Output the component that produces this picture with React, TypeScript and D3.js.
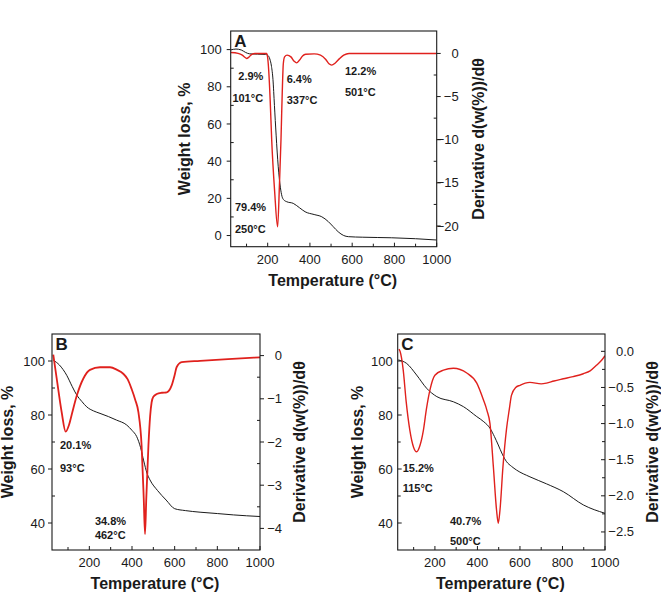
import React from "react";
import * as d3 from "d3";

// ---------- Tick values ----------
const xMajorTicks = [200, 400, 600, 800, 1000];
const xMinorTicks = [100, 300, 500, 700, 900];

const leftMajorA = [0, 20, 40, 60, 80, 100];
const leftMinorA = [10, 30, 50, 70, 90];
const rightMajorA = [0, -5, -10, -15, -20];
const rightMinorA = [-2.5, -7.5, -12.5, -17.5];

const leftMajorBC = [40, 60, 80, 100];
const leftMinorBC = [50, 70, 90];
const rightMajorB = [0, -1, -2, -3, -4];
const rightMinorB = [-0.5, -1.5, -2.5, -3.5];
const rightMajorC = [0, -0.5, -1, -1.5, -2, -2.5];
const rightMinorC = [-0.25, -0.75, -1.25, -1.75, -2.25];

// ---------- Panel A data ----------
const tgTempA = [25, 50, 75, 95, 115, 190, 200, 210, 218, 225, 232, 240, 250, 260, 268, 276, 290, 321, 350, 377, 420, 456, 487, 510, 534, 560, 582, 650, 787, 900, 1000];
const tgWeightA = [99.8, 100.3, 99.8, 98.5, 97.7, 97.4, 97, 95, 91, 84, 70, 54, 37, 26, 21, 19.2, 18.2, 17.3, 15, 12.8, 11.3, 10.1, 7.5, 4.8, 2, 0, -0.6, -0.9, -1.2, -1.7, -2.4];
const dtgTempA = [25, 60, 80, 95, 101, 110, 125, 140, 195, 200, 205, 212, 219, 233, 247, 256, 263, 269, 274, 280, 292, 310, 325, 337, 350, 365, 380, 420, 450, 475, 490, 503, 520, 540, 560, 585, 1000];
const dtgValA = [0.1, 0, -0.2, -0.5, -0.58, -0.45, -0.1, 0, 0, -0.5, -2, -5.5, -10, -16, -20.1, -15, -10, -4.5, -1.2, -0.4, -0.2, -0.4, -0.9, -1.1, -0.8, -0.3, -0.1, -0.05, -0.2, -0.7, -1.2, -1.35, -1.1, -0.6, -0.2, 0, 0];
const annTextA = ["2.9%", "101°C", "6.4%", "337°C", "12.2%", "501°C", "79.4%", "250°C"];
const annTempA = [61, 33, 290, 290, 566, 566, 45, 45];
const annValA = [83.4, 71.8, 82.3, 71, 86.3, 75.2, 13.2, 1.5];

// ---------- Panel B data ----------
const tgTempB = [31, 60, 94, 120, 141, 165, 188, 220, 250, 290, 328, 375, 400, 422, 440, 455, 470, 484, 520, 560, 600, 650, 719, 800, 875, 1000];
const tgWeightB = [100.3, 98.5, 94.7, 90.5, 87.4, 85, 83, 81.5, 80.6, 79.4, 78.1, 76.3, 74.3, 72, 68, 63, 58.5, 56, 52, 48.5, 45.3, 44.6, 44, 43.5, 43, 42.4];
const dtgTempB = [31, 47, 70, 89, 105, 117, 141, 172, 203, 250, 297, 330, 359, 380, 398, 415, 430, 445, 455, 461, 467, 477, 485, 492, 500, 516, 540, 563, 586, 600, 609, 633, 719, 850, 1000];
const dtgValB = [0.02, -0.53, -1.3, -1.76, -1.6, -1.375, -0.93, -0.53, -0.33, -0.27, -0.27, -0.33, -0.42, -0.55, -0.77, -1.02, -1.31, -2.08, -3.3, -4.13, -3.3, -2.08, -1.4, -1.08, -0.95, -0.89, -0.86, -0.85, -0.69, -0.45, -0.27, -0.15, -0.12, -0.08, -0.04];
const annTextB = ["20.1%", "93°C", "34.8%", "462°C"];
const annTempB = [62.5, 62.5, 226, 226];
const annValB = [67.3, 59, 39.4, 34.1];

// ---------- Panel C data ----------
const tgTempC = [28, 67, 114, 161, 209, 287, 334, 397, 430, 459, 480, 498, 517, 537, 560, 584, 647, 725, 804, 898, 1000];
const tgWeightC = [100.4, 99.1, 94.8, 89.9, 86.8, 84.9, 83.1, 79.4, 77.5, 75.1, 72, 68.9, 65.5, 62.7, 61, 59.6, 57.1, 54.5, 51.6, 46.7, 43.6];
const dtgTempC = [31, 36, 51, 65, 82, 100, 114, 130, 146, 160, 177, 200, 240, 287, 350, 397, 428, 445, 459, 475, 490, 498, 506, 520, 537, 550, 560, 580, 600, 625, 647, 700, 725, 760, 804, 850, 898, 930, 961, 985, 1000];
const dtgValC = [0.03, 0.0, -0.26, -0.7, -1.09, -1.33, -1.39, -1.3, -1.09, -0.8, -0.53, -0.33, -0.26, -0.235, -0.3, -0.44, -0.67, -0.82, -1.0, -1.6, -2.2, -2.38, -2.2, -1.6, -1.07, -0.8, -0.61, -0.5, -0.47, -0.44, -0.43, -0.45, -0.44, -0.41, -0.38, -0.35, -0.31, -0.27, -0.19, -0.12, -0.06];
const annTextC = ["15.2%", "115°C", "40.7%", "500°C"];
const annTempC = [48.5, 48.5, 271, 271];
const annValC = [59, 51.4, 39.3, 31.7];

const FONT = "'Liberation Sans', Arial, Helvetica, sans-serif";
const RED = "#e0211d";
const INK = "#1a1a1a";

type Cfg = {
  id: string;
  letter: string;
  x0: number; x1: number; y0: number; y1: number;
  xDomain: [number, number];
  yLDomain: [number, number];
  yRDomain: [number, number];
  leftMajor: number[]; leftMinor: number[];
  rightMajor: number[]; rightMinor: number[];
  rightFmt: (v: number) => string;
  leftGap: number; rightEnd: number;
  leftOut: boolean; rightOut: boolean;
  weightX: number; derivX: number; tempBaseline: number;
  tgT: number[]; tgV: number[]; dtgT: number[]; dtgV: number[];
  annText: string[]; annT: number[]; annV: number[];
  redWidth: number;
};

function Panel({ c }: { c: Cfg }) {
  const x = d3.scaleLinear().domain(c.xDomain).range([c.x0, c.x1]);
  const yL = d3.scaleLinear().domain(c.yLDomain).range([c.y1, c.y0]);
  const yR = d3.scaleLinear().domain(c.yRDomain).range([c.y1, c.y0]);
  const tgPts = c.tgT.map((t, i) => [t, c.tgV[i]] as [number, number]);
  const dtgPts = c.dtgT.map((t, i) => [t, c.dtgV[i]] as [number, number]);
  const tgLine = d3.line<[number, number]>().x(d => x(d[0])).y(d => yL(d[1])).curve(d3.curveMonotoneX);
  const dtgLine = d3.line<[number, number]>().x(d => x(d[0])).y(d => yR(d[1])).curve(d3.curveMonotoneX);
  const cx = (c.x0 + c.x1) / 2;
  const cy = (c.y0 + c.y1) / 2;
  const maj = 4, min = 3;
  return (
    <g>
      <defs>
        <clipPath id={"clip" + c.id}>
          <rect x={c.x0} y={c.y0} width={c.x1 - c.x0} height={c.y1 - c.y0} />
        </clipPath>
      </defs>
      <g clipPath={`url(#clip${c.id})`}>
        <path d={tgLine(tgPts) || ""} fill="none" stroke={INK} strokeWidth={1} />
        <path d={dtgLine(dtgPts) || ""} fill="none" stroke={RED} strokeWidth={c.redWidth} strokeLinejoin="round" />
      </g>
      <rect x={c.x0} y={c.y0} width={c.x1 - c.x0} height={c.y1 - c.y0} fill="none" stroke={INK} strokeWidth={1.1} />
      {xMajorTicks.map(t => (
        <g key={"xm" + t}>
          <line x1={x(t)} x2={x(t)} y1={c.y1} y2={c.y1 - maj} stroke={INK} />
          <text x={x(t)} y={c.y1 + 17} textAnchor="middle" fontSize={13} fill={INK}>{t}</text>
        </g>
      ))}
      {xMinorTicks.map(t => (
        <line key={"xn" + t} x1={x(t)} x2={x(t)} y1={c.y1} y2={c.y1 - min} stroke={INK} />
      ))}
      {c.leftMajor.map(v => (
        <g key={"lm" + v}>
          <line x1={c.x0} x2={c.leftOut ? c.x0 - maj : c.x0 + maj} y1={yL(v)} y2={yL(v)} stroke={INK} />
          <text x={c.x0 - c.leftGap} y={yL(v)} dy="0.35em" textAnchor="end" fontSize={13} fill={INK}>{v}</text>
        </g>
      ))}
      {c.leftMinor.map(v => (
        <line key={"ln" + v} x1={c.x0} x2={c.x0 + min} y1={yL(v)} y2={yL(v)} stroke={INK} />
      ))}
      {c.rightMajor.map(v => (
        <g key={"rm" + v}>
          <line x1={c.x1} x2={c.rightOut ? c.x1 + maj : c.x1 - maj} y1={yR(v)} y2={yR(v)} stroke={INK} />
          <text x={c.x1 + c.rightEnd} y={yR(v)} dy="0.35em" textAnchor="end" fontSize={13} fill={INK}>{c.rightFmt(v)}</text>
        </g>
      ))}
      {c.rightMinor.map(v => (
        <line key={"rn" + v} x1={c.x1} x2={c.x1 - min} y1={yR(v)} y2={yR(v)} stroke={INK} />
      ))}
      {c.annText.map((s, i) => (
        <text key={"a" + i} x={x(c.annT[i])} y={yL(c.annV[i])} fontSize={11} fontWeight="bold" fill={INK}>{s}</text>
      ))}
      <text x={c.x0 + 3.5} y={c.y0 + 15.5} fontSize={17} fontWeight="bold" fill={INK}>{c.letter}</text>
      <text x={cx - 1} y={c.tempBaseline} textAnchor="middle" fontSize={16} fontWeight="bold" fill={INK}>Temperature (°C)</text>
      <text transform={`translate(${c.weightX},${cy}) rotate(-90)`} textAnchor="middle" dy="0.35em" fontSize={16} fontWeight="bold" fill={INK}>Weight loss, %</text>
      <text transform={`translate(${c.derivX},${cy}) rotate(-90)`} textAnchor="middle" dy="0.35em" fontSize={16} fontWeight="bold" fill={INK}>Derivative d(w(%))/dθ</text>
    </g>
  );
}

const fmtInt = d3.format("d");
const fmt1 = d3.format(".1f");

const panels: Cfg[] = [
  {
    id: "A", letter: "A", x0: 230.7, x1: 436.7, y0: 31, y1: 246.7,
    xDomain: [25, 1000], yLDomain: [-6, 110], yRDomain: [-22.4, 2.6],
    leftMajor: leftMajorA, leftMinor: leftMinorA, rightMajor: rightMajorA, rightMinor: rightMinorA,
    rightFmt: v => fmtInt(v), leftGap: 9, rightEnd: 22, leftOut: true, rightOut: true,
    weightX: 184, derivX: 478, tempBaseline: 286,
    tgT: tgTempA, tgV: tgWeightA, dtgT: dtgTempA, dtgV: dtgValA,
    annText: annTextA, annT: annTempA, annV: annValA, redWidth: 1.4,
  },
  {
    id: "B", letter: "B", x0: 52, x1: 260, y0: 334, y1: 550,
    xDomain: [25, 1000], yLDomain: [30, 110], yRDomain: [-4.5, 0.5],
    leftMajor: leftMajorBC, leftMinor: leftMinorBC, rightMajor: rightMajorB, rightMinor: rightMinorB,
    rightFmt: v => fmtInt(v), leftGap: 7, rightEnd: 22, leftOut: true, rightOut: true,
    weightX: 7, derivX: 299, tempBaseline: 589,
    tgT: tgTempB, tgV: tgWeightB, dtgT: dtgTempB, dtgV: dtgValB,
    annText: annTextB, annT: annTempB, annV: annValB, redWidth: 1.8,
  },
  {
    id: "C", letter: "C", x0: 397.7, x1: 605, y0: 334, y1: 550,
    xDomain: [25, 1000], yLDomain: [30, 110], yRDomain: [-2.75, 0.24],
    leftMajor: leftMajorBC, leftMinor: leftMinorBC, rightMajor: rightMajorC, rightMinor: rightMinorC,
    rightFmt: v => (v === 0 ? "0.0" : fmt1(v)), leftGap: 5, rightEnd: 29, leftOut: false, rightOut: false,
    weightX: 357, derivX: 652, tempBaseline: 589,
    tgT: tgTempC, tgV: tgWeightC, dtgT: dtgTempC, dtgV: dtgValC,
    annText: annTextC, annT: annTempC, annV: annValC, redWidth: 1.4,
  },
];

export default function App() {
  return (
    <svg
      width={661}
      height={595}
      viewBox="0 0 661 595"
      style={{ position: "absolute", left: 0, top: 0, background: "#fff", fontFamily: FONT }}
    >
      <rect x={0} y={0} width={661} height={595} fill="#fff" />
      {panels.map(p => (
        <Panel key={p.id} c={p} />
      ))}
    </svg>
  );
}
